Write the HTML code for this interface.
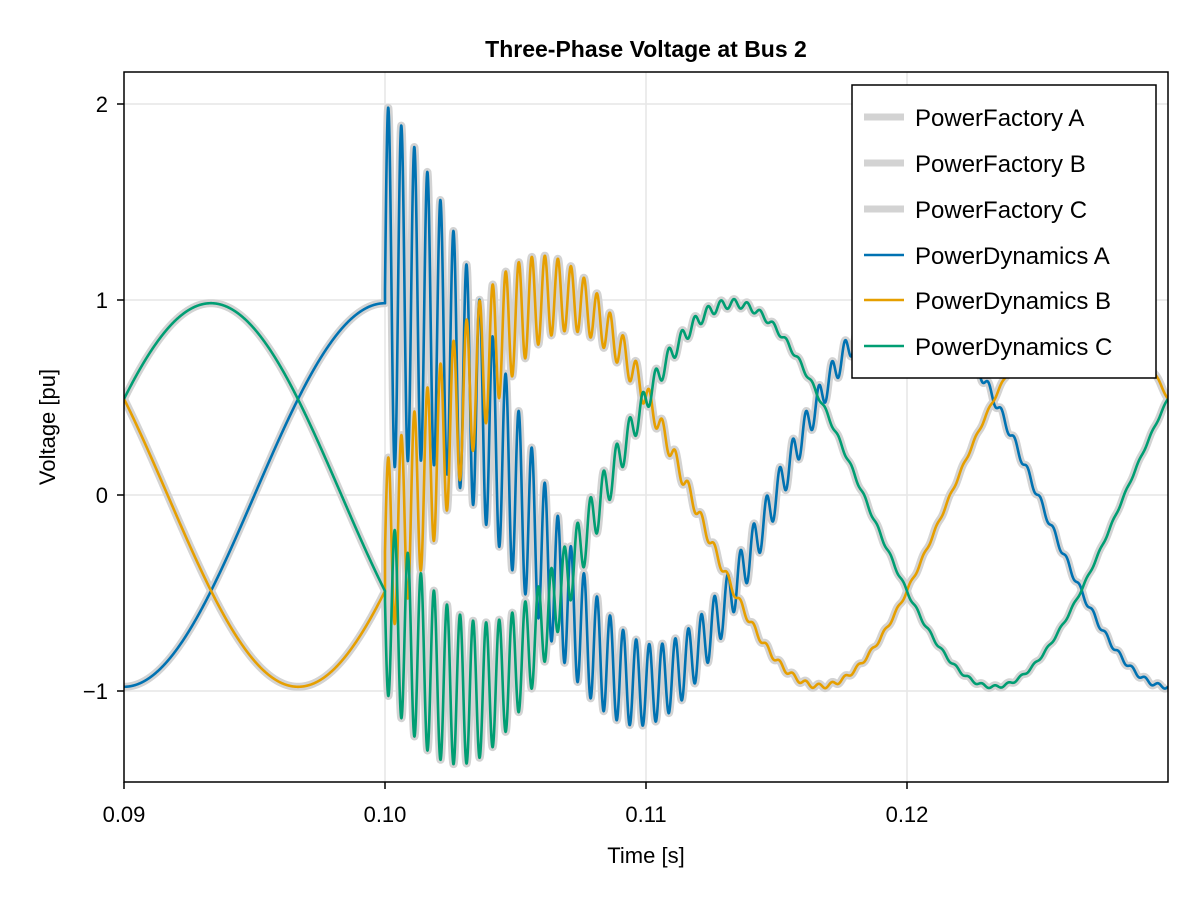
<!DOCTYPE html>
<html><head><meta charset="utf-8"><style>
html,body{margin:0;padding:0;background:#fff;}
svg{display:block;font-family:"Liberation Sans",Arial,sans-serif;}
</style></head><body>
<svg id="s" width="1200" height="900" viewBox="0 0 1200 900" xmlns="http://www.w3.org/2000/svg">
<rect width="1200" height="900" fill="#fff"/>
<defs><clipPath id="c"><rect x="124" y="72" width="1044" height="710"/></clipPath></defs>
<g stroke="#e6e6e6" stroke-width="1.5">
<line x1="385" y1="72" x2="385" y2="782"/><line x1="646" y1="72" x2="646" y2="782"/><line x1="907" y1="72" x2="907" y2="782"/>
<line x1="124" y1="104" x2="1168" y2="104"/><line x1="124" y1="300" x2="1168" y2="300"/><line x1="124" y1="495" x2="1168" y2="495"/><line x1="124" y1="691" x2="1168" y2="691"/>
</g>
<g id="series" clip-path="url(#c)" fill="none" stroke-linejoin="round"></g>
<rect x="124" y="72" width="1044" height="710" fill="none" stroke="#000" stroke-width="1.5"/>
<g stroke="#000" stroke-width="1.5">
<line x1="124" y1="782" x2="124" y2="789"/><line x1="385" y1="782" x2="385" y2="789"/><line x1="646" y1="782" x2="646" y2="789"/><line x1="907" y1="782" x2="907" y2="789"/>
<line x1="117" y1="104" x2="124" y2="104"/><line x1="117" y1="300" x2="124" y2="300"/><line x1="117" y1="495" x2="124" y2="495"/><line x1="117" y1="691" x2="124" y2="691"/>
</g>
<g font-size="22" fill="#000" text-anchor="middle">
<text x="124" y="822">0.09</text><text x="385" y="822">0.10</text><text x="646" y="822">0.11</text><text x="907" y="822">0.12</text>
</g>
<g font-size="22" fill="#000" text-anchor="end">
<text x="108" y="112">2</text><text x="108" y="308">1</text><text x="108" y="503">0</text><text x="108" y="699">−1</text>
</g>
<text x="646" y="863" font-size="22" text-anchor="middle">Time [s]</text>
<text transform="translate(55,427) rotate(-90)" font-size="22" text-anchor="middle">Voltage [pu]</text>
<text x="646" y="57" font-size="23" font-weight="bold" text-anchor="middle">Three-Phase Voltage at Bus 2</text>
<rect x="852" y="85" width="304" height="293" fill="#fff" stroke="#000" stroke-width="1.5"/>
<g stroke-width="7" stroke="#d3d3d3">
<line x1="864" y1="117" x2="904" y2="117"/><line x1="864" y1="163" x2="904" y2="163"/><line x1="864" y1="209" x2="904" y2="209"/>
</g>
<g stroke-width="2.5">
<line x1="864" y1="255" x2="904" y2="255" stroke="#0072b2"/><line x1="864" y1="300" x2="904" y2="300" stroke="#e69f00"/><line x1="864" y1="346" x2="904" y2="346" stroke="#009e73"/>
</g>
<g font-size="24" fill="#000">
<text x="915" y="126">PowerFactory A</text><text x="915" y="172">PowerFactory B</text><text x="915" y="218">PowerFactory C</text>
<text x="915" y="264">PowerDynamics A</text><text x="915" y="309">PowerDynamics B</text><text x="915" y="355">PowerDynamics C</text>
</g>
<script>
(function(){
var w=2*Math.PI*50, wh=2*Math.PI*2000;
function X(t){return 124+(t-0.09)*26100;}
function Y(v){return 495-v*195.7;}
function f(p,t){
 var A=0.98;
 var base;
 if(p==0) base=-A*Math.cos(w*(t-0.09));
 else if(p==1) base=-A*Math.cos(w*(t-0.09667));
 else base=A*Math.cos(w*(t-0.09333));
 if(t<0.1) return base;
 var tau=t-0.1, s=Math.sin(wh*tau);
 var g=0.43*Math.exp(-Math.pow(tau/0.0069,2))+0.025*Math.exp(-tau/0.02);
 if(p==0) return base+0.07*Math.exp(-tau/0.006)+0.95*Math.exp(-tau/0.0066)*s;
 if(p==1) return base+0.2*Math.exp(-tau/0.004)+g*s;
 return base-0.05*Math.exp(-tau/0.004)-g*s;
}
var paths=[];
for(var p=0;p<3;p++){
 var d="",t,first=true;
 for(var i=0;i<=4000;i++){
  t=0.09+i*0.00001;
  if(Math.abs(t-0.1)<0.000005){d+="L"+X(0.1).toFixed(2)+","+Y(f(p,0.0999999)).toFixed(2);t=0.1;}
  d+=(first?"M":"L")+X(t).toFixed(2)+","+Y(f(p,t)).toFixed(2);first=false;
 }
 paths.push(d);
}
var g=document.getElementById("series"),ns="http://www.w3.org/2000/svg";
var cols=["#0072b2","#e69f00","#009e73"];
for(var k=0;k<6;k++){
 var e=document.createElementNS(ns,"path");
 e.setAttribute("d",paths[k%3]);
 e.setAttribute("stroke",k<3?"#d3d3d3":cols[k-3]);
 e.setAttribute("stroke-width",k<3?"8":"2.6");
 g.appendChild(e);
}
})();
</script>
</svg>
</body></html>
